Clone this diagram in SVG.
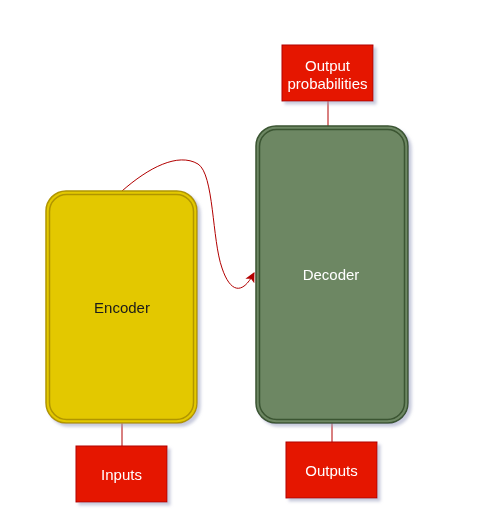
<svg xmlns="http://www.w3.org/2000/svg" width="477" height="531" viewBox="0 0 477 531">
<defs>
<filter id="sh" x="-20%" y="-20%" width="140%" height="140%">
<feGaussianBlur in="SourceAlpha" stdDeviation="1.5"/>
<feOffset dx="3" dy="3" result="b"/>
<feFlood flood-color="#9aa0c0" flood-opacity="0.55"/>
<feComposite in2="b" operator="in"/>
<feMerge><feMergeNode/><feMergeNode in="SourceGraphic"/></feMerge>
</filter>
<marker id="ah" viewBox="0 0 10 10" refX="9" refY="5" markerWidth="10" markerHeight="10" markerUnits="userSpaceOnUse" orient="auto">
<path d="M0,0 L10,5 L0,10 L2.5,5 Z" fill="#B20000"/>
</marker>
<style>
.lbl{font-family:"Liberation Sans",Arial,sans-serif;font-size:15px;text-anchor:middle;dominant-baseline:central}
.w{fill:#ffffff}
.red{fill:#e51400;stroke:#B20000;stroke-width:1}
.conn{fill:none;stroke:#B20000;stroke-width:1}
</style>
</defs>
<g id="connectors">
<path class="conn" d="M122,423 L122,446"/>
<path class="conn" d="M332,423 L332,442"/>
<path class="conn" d="M328,101 L328,126"/>
<path class="conn" d="M122,191 C148,168 178,152 198,164 C214,174 212,240 222,268 C230,292 242,296 254,273" marker-end="url(#ah)"/>
</g>
<g id="encoder" filter="url(#sh)">
<rect x="46" y="191" width="151" height="232" rx="20" fill="#e3c800" stroke="#B09500" stroke-width="1.5"/>
<rect x="49.5" y="194.5" width="144" height="225" rx="17" fill="none" stroke="#B09500" stroke-width="1.5"/>
<text class="lbl" x="122" y="307" fill="#1a1a1a">Encoder</text>
</g>
<g id="decoder" filter="url(#sh)">
<rect x="256" y="126" width="152" height="297" rx="20" fill="#6d8764" stroke="#3A5431" stroke-width="1.5"/>
<rect x="259.5" y="129.5" width="145" height="290" rx="17" fill="none" stroke="#3A5431" stroke-width="1.5"/>
<text class="lbl w" x="331" y="274">Decoder</text>
</g>
<g id="output-probabilities" filter="url(#sh)">
<rect class="red" x="282" y="45" width="91" height="56"/>
<text class="lbl w" x="327.5" y="65">Output</text>
<text class="lbl w" x="327.5" y="83">probabilities</text>
</g>
<g id="inputs" filter="url(#sh)">
<rect class="red" x="76" y="446" width="91" height="56"/>
<text class="lbl w" x="121.5" y="474">Inputs</text>
</g>
<g id="outputs" filter="url(#sh)">
<rect class="red" x="286" y="442" width="91" height="56"/>
<text class="lbl w" x="331.5" y="470">Outputs</text>
</g>
</svg>
